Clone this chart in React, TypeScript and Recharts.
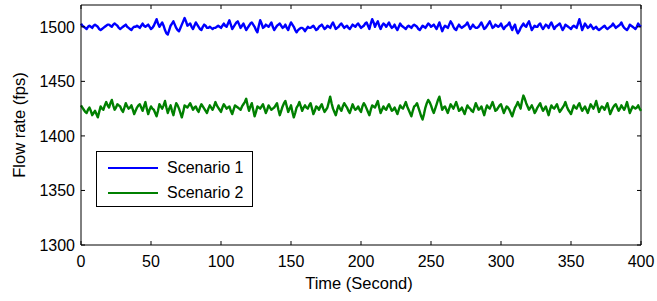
import React from 'react';
import { LineChart, Line, XAxis, YAxis, ReferenceLine, Legend, Label } from 'recharts';

// Scenario 1 samples at even seconds (0, 2, ..., 400)
const scenario1Even: number[] = [
  1503, 1500, 1498, 1501, 1499, 1502, 1500, 1497, 1499, 1501,
  1502, 1500, 1503, 1501, 1498, 1500, 1502, 1499, 1497, 1500,
  1501, 1499, 1503, 1500, 1502, 1498, 1501, 1507, 1500, 1504,
  1497, 1493, 1501, 1505, 1499, 1496, 1502, 1508, 1501, 1503,
  1498, 1504, 1500, 1497, 1502, 1499, 1500, 1498, 1499, 1501,
  1499, 1503, 1500, 1506, 1498, 1502, 1505, 1499, 1503, 1497,
  1501, 1504, 1500, 1495, 1506, 1499, 1502, 1500, 1504, 1497,
  1501, 1503, 1499, 1502, 1497, 1504, 1500, 1495, 1498, 1499,
  1496, 1500, 1499, 1501, 1497, 1500, 1502, 1498, 1501, 1499,
  1504, 1498, 1500, 1503, 1499, 1501, 1498, 1502, 1500, 1503,
  1499, 1501, 1504, 1498, 1507, 1500, 1505, 1498, 1503, 1500,
  1504, 1499, 1502, 1497, 1503, 1500, 1498, 1501, 1499, 1502,
  1500, 1497, 1501, 1499, 1503, 1500, 1502, 1498, 1504, 1496,
  1501, 1499, 1505, 1500, 1497, 1502, 1499, 1501, 1504, 1498,
  1502, 1499, 1500, 1504, 1498, 1501, 1505, 1499, 1502, 1500,
  1503, 1498, 1501, 1504, 1497, 1502, 1494, 1499, 1503, 1500,
  1505, 1497, 1501, 1500, 1503, 1498, 1502, 1499, 1504, 1498,
  1501, 1503, 1497, 1502, 1500, 1498, 1501, 1499, 1507, 1497,
  1503, 1499, 1502, 1498, 1500, 1497, 1499, 1501, 1498, 1500,
  1503, 1499, 1501, 1504, 1499, 1497, 1502, 1500, 1498, 1503,
  1500,
];

// Scenario 1 samples at odd seconds (1, 3, ..., 399)
const scenario1Odd: number[] = [
  1501, 1499, 1500, 1500, 1501, 1501, 1498, 1498, 1500, 1502,
  1501, 1502, 1502, 1499, 1499, 1501, 1500, 1498, 1499, 1500,
  1500, 1501, 1501, 1501, 1500, 1499, 1504, 1503, 1502, 1501,
  1494, 1497, 1503, 1502, 1497, 1499, 1505, 1505, 1502, 1500,
  1501, 1502, 1498, 1500, 1501, 1499, 1499, 1499, 1500, 1500,
  1501, 1501, 1503, 1502, 1500, 1504, 1502, 1501, 1500, 1499,
  1503, 1502, 1497, 1501, 1503, 1500, 1501, 1502, 1500, 1499,
  1502, 1501, 1500, 1499, 1501, 1502, 1497, 1497, 1499, 1498,
  1498, 1499, 1500, 1499, 1498, 1501, 1500, 1499, 1500, 1502,
  1501, 1499, 1502, 1501, 1500, 1499, 1500, 1501, 1502, 1501,
  1500, 1503, 1501, 1503, 1504, 1503, 1501, 1501, 1502, 1502,
  1501, 1500, 1499, 1500, 1501, 1499, 1500, 1500, 1501, 1501,
  1498, 1499, 1500, 1501, 1502, 1501, 1500, 1501, 1500, 1499,
  1500, 1502, 1503, 1498, 1500, 1500, 1500, 1502, 1501, 1500,
  1500, 1499, 1502, 1501, 1499, 1503, 1502, 1500, 1501, 1501,
  1500, 1500, 1502, 1500, 1500, 1497, 1496, 1501, 1501, 1503,
  1501, 1499, 1500, 1502, 1500, 1500, 1501, 1502, 1501, 1500,
  1502, 1500, 1499, 1501, 1499, 1500, 1500, 1503, 1502, 1500,
  1501, 1500, 1500, 1499, 1498, 1498, 1500, 1499, 1499, 1501,
  1501, 1500, 1502, 1501, 1498, 1499, 1501, 1499, 1500, 1501,
];

// Scenario 2 samples at even seconds (0, 2, ..., 400)
const scenario2Even: number[] = [
  1428, 1424, 1421, 1426, 1419, 1423, 1417, 1427, 1424, 1431,
  1426, 1433, 1424, 1429, 1427, 1422, 1430, 1425, 1428, 1420,
  1426, 1429, 1423, 1431, 1420, 1427, 1424, 1418, 1429, 1425,
  1432, 1421, 1428, 1419, 1430, 1425, 1417, 1428, 1426, 1430,
  1424, 1427, 1422, 1429, 1425, 1421, 1428, 1424, 1431, 1426,
  1422, 1429, 1425, 1427, 1420, 1428, 1426, 1424, 1429, 1434,
  1423, 1430, 1418, 1427, 1425, 1429, 1421, 1428, 1424, 1426,
  1430, 1419, 1427, 1432, 1422, 1428, 1417, 1426, 1431, 1423,
  1428, 1425, 1430, 1420, 1427, 1424, 1429, 1422, 1426, 1436,
  1425, 1419, 1428, 1423, 1430, 1426, 1421, 1429, 1424, 1427,
  1422, 1430, 1425, 1419, 1428, 1426, 1432, 1421, 1427, 1424,
  1429, 1423, 1426, 1420, 1428, 1425, 1431, 1424, 1418, 1427,
  1430, 1422, 1415, 1426, 1433, 1428, 1421, 1429, 1436, 1424,
  1427, 1421, 1429, 1425, 1431, 1423, 1426, 1420, 1428, 1425,
  1422, 1430, 1424, 1427, 1419, 1428, 1425, 1431, 1423, 1426,
  1429, 1421, 1427, 1424, 1418, 1426, 1431, 1425, 1437, 1430,
  1424, 1428, 1421, 1426, 1430, 1423, 1427, 1419, 1428, 1425,
  1429, 1422, 1426, 1431, 1424, 1420, 1428, 1425, 1430, 1423,
  1427, 1421, 1429, 1425, 1432, 1422, 1427, 1424, 1430, 1420,
  1426, 1429, 1423, 1428, 1424, 1431, 1421, 1427, 1425, 1428,
  1423,
];

// Scenario 2 samples at odd seconds (1, 3, ..., 399)
const scenario2Odd: number[] = [
  1426, 1422, 1424, 1423, 1421, 1420, 1422, 1425, 1428, 1428,
  1430, 1428, 1426, 1428, 1424, 1426, 1427, 1426, 1424, 1423,
  1428, 1426, 1427, 1425, 1424, 1425, 1421, 1423, 1427, 1428,
  1426, 1425, 1423, 1425, 1428, 1421, 1422, 1427, 1428, 1427,
  1426, 1424, 1426, 1427, 1423, 1425, 1426, 1427, 1428, 1424,
  1426, 1427, 1426, 1423, 1424, 1427, 1425, 1427, 1431, 1428,
  1427, 1424, 1422, 1426, 1427, 1425, 1424, 1426, 1425, 1428,
  1424, 1423, 1430, 1427, 1425, 1422, 1421, 1428, 1427, 1426,
  1426, 1428, 1425, 1423, 1426, 1427, 1425, 1424, 1431, 1430,
  1422, 1424, 1425, 1427, 1428, 1423, 1425, 1426, 1425, 1424,
  1427, 1428, 1422, 1424, 1427, 1429, 1426, 1424, 1425, 1427,
  1426, 1424, 1423, 1424, 1426, 1428, 1427, 1421, 1423, 1428,
  1426, 1418, 1420, 1430, 1431, 1424, 1425, 1433, 1430, 1426,
  1424, 1425, 1427, 1428, 1427, 1424, 1423, 1424, 1426, 1423,
  1426, 1427, 1425, 1423, 1424, 1426, 1428, 1427, 1424, 1428,
  1425, 1424, 1426, 1421, 1422, 1428, 1428, 1432, 1434, 1427,
  1426, 1425, 1423, 1428, 1426, 1425, 1423, 1424, 1426, 1427,
  1425, 1424, 1428, 1427, 1422, 1424, 1426, 1428, 1426, 1425,
  1424, 1425, 1427, 1428, 1427, 1425, 1426, 1427, 1425, 1423,
  1428, 1426, 1425, 1426, 1427, 1426, 1424, 1426, 1426, 1425,
];

const xTicks = [0, 50, 100, 150, 200, 250, 300, 350, 400];
const yTicks = [1300, 1350, 1400, 1450, 1500];
const seriesNames = ['Scenario 1', 'Scenario 2'];
const seriesColors = ['#0000FF', '#008000'];

const data: { t: number; s1: number; s2: number }[] = [];
scenario1Even.forEach((v, i) => {
  data.push({ t: 2 * i, s1: v, s2: scenario2Even[i] });
  if (i < scenario1Odd.length) {
    data.push({ t: 2 * i + 1, s1: scenario1Odd[i], s2: scenario2Odd[i] });
  }
});

const FONT = '"Liberation Sans", Arial, sans-serif';
const PLOT_TOP = 5;
const PLOT_RIGHT = 641;
const TICK_LEN = 4;

const XTick = (props: any) => {
  const { x, y, payload } = props;
  return (
    <g>
      <line x1={x} x2={x} y1={y} y2={y - TICK_LEN} stroke="#000" strokeWidth={1} />
      <line x1={x} x2={x} y1={PLOT_TOP} y2={PLOT_TOP + TICK_LEN} stroke="#000" strokeWidth={1} />
      <text x={x} y={y + 21.5} textAnchor="middle" fontSize={16} fontFamily={FONT} fill="#000">
        {payload.value}
      </text>
    </g>
  );
};

const YTick = (props: any) => {
  const { x, y, payload } = props;
  return (
    <g>
      <line x1={x} x2={x + TICK_LEN} y1={y} y2={y} stroke="#000" strokeWidth={1} />
      <line x1={PLOT_RIGHT} x2={PLOT_RIGHT - TICK_LEN} y1={y} y2={y} stroke="#000" strokeWidth={1} />
      <text x={x - 6} y={y} dy="0.36em" textAnchor="end" fontSize={16} fontFamily={FONT} fill="#000">
        {payload.value}
      </text>
    </g>
  );
};

const LegendBox = () => (
  <div
    style={{
      width: 157,
      height: 56,
      border: '1px solid #000',
      background: '#fff',
      boxSizing: 'border-box',
      fontFamily: FONT,
      fontSize: 16,
      color: '#000',
      paddingTop: 3,
    }}
  >
    {seriesNames.map((n, i) => (
      <div key={n} style={{ display: 'flex', alignItems: 'center', height: 25, lineHeight: '25px' }}>
        <div style={{ width: 50, height: 2, background: seriesColors[i], marginLeft: 11, marginRight: 9 }} />
        <span>{n}</span>
      </div>
    ))}
  </div>
);

export default function App() {
  return (
    <div style={{ position: 'absolute', left: 0, top: 0, width: 657, height: 301, background: '#fff' }}>
      <LineChart width={657} height={301} data={data} margin={{ top: PLOT_TOP, right: 16, bottom: 26, left: 0 }}>
        <XAxis
          dataKey="t"
          type="number"
          domain={[0, 400]}
          ticks={xTicks}
          height={30}
          tickSize={0}
          tickMargin={0}
          tickLine={false}
          axisLine={{ stroke: '#000', strokeWidth: 1 }}
          tick={<XTick />}
          interval={0}
        >
          <Label
            content={() => (
              <text x={359} y={289} textAnchor="middle" fontSize={16.5} fontFamily={FONT} fill="#000">
                Time (Second)
              </text>
            )}
          />
        </XAxis>
        <YAxis
          type="number"
          domain={[1300, 1520]}
          ticks={yTicks}
          width={81}
          tickSize={0}
          tickMargin={0}
          tickLine={false}
          axisLine={{ stroke: '#000', strokeWidth: 1 }}
          tick={<YTick />}
          interval={0}
          allowDataOverflow
        >
          <Label
            content={() => (
              <text
                x={25}
                y={125}
                transform="rotate(-90 25 125)"
                textAnchor="middle"
                fontSize={16.5}
                fontFamily={FONT}
                fill="#000"
              >
                Flow rate (fps)
              </text>
            )}
          />
        </YAxis>
        <ReferenceLine y={1520} stroke="#000" strokeWidth={1} ifOverflow="extendDomain" />
        <ReferenceLine x={400} stroke="#000" strokeWidth={1} />
        <Line dataKey="s1" name={seriesNames[0]} stroke={seriesColors[0]} strokeWidth={2.4} strokeLinejoin="round" dot={false} isAnimationActive={false} />
        <Line dataKey="s2" name={seriesNames[1]} stroke={seriesColors[1]} strokeWidth={2.4} strokeLinejoin="round" dot={false} isAnimationActive={false} />
        <Legend
          layout="vertical"
          align="center"
          verticalAlign="middle"
          content={<LegendBox />}
          wrapperStyle={{ position: 'absolute', left: 96, top: 151, width: 157 }}
        />
      </LineChart>
    </div>
  );
}
